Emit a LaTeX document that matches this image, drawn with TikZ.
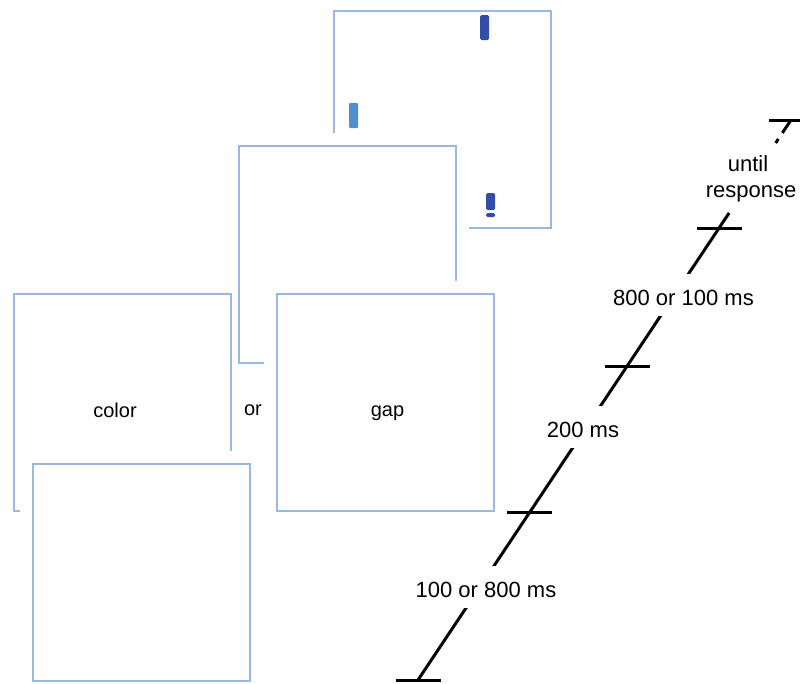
\documentclass[tikz,border=0pt]{standalone}
\usepackage{fontspec}
\setmainfont{Liberation Sans}
\usetikzlibrary{calc}
\definecolor{framecol}{RGB}{152,186,224}
\definecolor{darkbar}{RGB}{48,78,170}
\definecolor{lightbar}{RGB}{78,142,212}
\begin{document}
\begin{tikzpicture}[x=1pt,y=-1pt,
  frame/.style={draw=framecol, line width=2pt, fill=white, minimum width=217pt, minimum height=217pt, inner sep=0pt, outer sep=0pt},
  halo/.style={preaction={draw=white, line width=26pt}},
  tl/.style={line width=3pt, black},
  lab/.style={fill=white, font=\fontsize{22}{26}\selectfont, text height=20pt, text depth=0pt, inner ysep=11pt, inner xsep=2pt, anchor=base},
  tlab/.style={font=\fontsize{22}{26}\selectfont, anchor=base, inner sep=0pt},
  ftext/.style={font=\fontsize{20}{24}\selectfont, anchor=base, inner sep=0pt}]
\useasboundingbox[fill=white] (0,0) rectangle (800,683);

% back frame with stimuli
\node[frame] (f1) at (442.5,119.5) {};
\fill[darkbar, rounded corners=1.5pt] (480,15) rectangle (489,40);
\fill[lightbar, rounded corners=1pt] (349,103) rectangle (358,128);
\fill[darkbar, rounded corners=1.5pt] (486,193) rectangle (495,210);
\fill[darkbar, rounded corners=1.5pt] (486,213) rectangle (495,217);

% fixation frame
\node[frame, halo] (f2) at (347,254.5) {};

% cue frames
\node[frame] (fc) at (122,402.5) {};
\node[frame, halo] (fg) at (385.5,402.5) {};
\node[ftext] (tcolor) at (115,417) {color};
\node[ftext] (tor) at (253,415) {or};
\node[ftext] (tgap) at (387.5,416) {gap};

% front frame
\node[frame, halo] (fb) at (141.5,572) {};

% timeline
\coordinate (t0) at (418,680);
\coordinate (t4) at (791,120);
\coordinate (t1) at ($(t0)!0.3!(t4)$);
\coordinate (t2) at ($(t0)!0.5607!(t4)$);
\coordinate (t3) at ($(t0)!0.8071!(t4)$);
\coordinate (t3e) at ($(t0)!0.834!(t4)$);
\coordinate (t4e) at ($(t4)!0.045!(t0)$);
\draw[tl] (t0) -- (t3e);
\draw[tl, dash pattern=on 15.6pt off 7.2pt on 4.8pt off 100pt] (t4) -- (t4e);
\foreach \t in {t0,t1,t2,t3,t4}
  \draw[tl] ($(\t)+(-22.5,0)$) -- ($(\t)+(22.5,0)$);

\node[lab] (l1) at (486,597) {100 or 800 ms};
\node[lab] (l2) at (583,437) {200 ms};
\node[lab] (l3) at (683.5,305) {800 or 100 ms};
\node[tlab] (l4a) at (748,171) {until};
\node[tlab] (l4b) at (751,197) {response};
\end{tikzpicture}
\end{document}
